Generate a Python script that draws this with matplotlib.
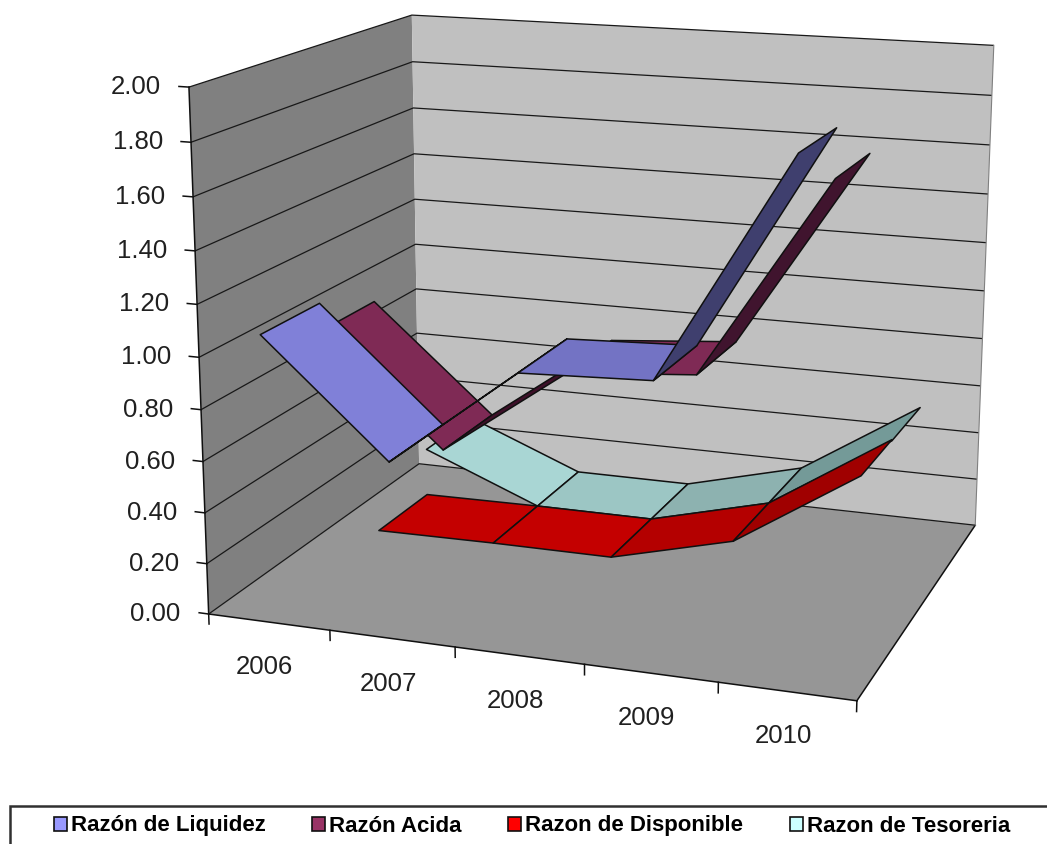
import matplotlib
matplotlib.use('Agg')
import matplotlib.pyplot as plt
from matplotlib.patches import Patch, Rectangle
from mpl_toolkits.mplot3d import proj3d
from mpl_toolkits.mplot3d.art3d import Poly3DCollection

years = ['2006', '2007', '2008', '2009', '2010']
series_names = ['Razón de Liquidez', 'Razón Acida', 'Razon de Disponible', 'Razon de Tesoreria']
liquidez = [1.11, 0.68, 1.06, 1.08, 1.91]
acida = [1.00, 0.58, 0.93, 0.97, 1.73]
disponible = [0.04, 0.045, 0.045, 0.17, 0.49]
tesoreria = [0.24, 0.045, 0.045, 0.17, 0.485]
z_ticks = [0.0, 0.2, 0.4, 0.6, 0.8, 1.0, 1.2, 1.4, 1.6, 1.8, 2.0]

# legend colours, then the shaded colour of each ribbon segment
legend_colors = ['#9999FF', '#993366', '#FF0000', '#CCFFFF']
liquidez_cols = ['#8080D8', '#20204A', '#7373C4', '#3F3F6E']
acida_cols = ['#7F2A55', '#3E1029', '#7F2A55', '#40142E']
disponible_cols = ['#C40000', '#C40000', '#B40000', '#A00000']
tesoreria_cols = ['#A9D6D4', '#9CC6C4', '#8DB2B0', '#749A98']

plt.rcParams['font.family'] = ['Liberation Sans', 'DejaVu Sans']
plt.rcParams['grid.color'] = '#181818'
plt.rcParams['grid.linewidth'] = 0.9

W, H = 1047, 844
fig = plt.figure(figsize=(W / 100, H / 100), dpi=100)

# camera was fitted to the corners of the box in the picture
side = 949.7
ax = fig.add_axes([123.6 / W, 33.9 / H, side / W, side / H], projection='3d', computed_zorder=False)
ax.patch.set_visible(False)
ax.set_xlim(0, 5, view_margin=0)
ax.set_ylim(0, 4, view_margin=0)
ax.set_zlim(0, 2, view_margin=0)
ax.view_init(elev=14.4487, azim=-70.7404, roll=-0.1515)
ax.set_proj_type('persp', focal_length=0.5176)
ax.set_box_aspect((1.2518, 0.9972, 1.0))

ax.set_xticks([])
ax.set_yticks([])
ax.set_zticks(z_ticks)
ax.set_zticklabels([])
ax.tick_params(axis='z', color='none')
ax.xaxis.set_pane_color('#808080')
ax.yaxis.set_pane_color('#C0C0C0')
ax.zaxis.set_pane_color('#969696')
for axis in (ax.xaxis, ax.yaxis, ax.zaxis):
    axis.pane.set_edgecolor('none')
    axis.line.set_color('none')

# box edges and tick marks
edge = dict(color='#101010', lw=1.1, zorder=1)
ax.plot([0, 5], [0, 0], [0, 0], **edge)
ax.plot([5, 5], [0, 4], [0, 0], **edge)
ax.plot([0, 0], [0, 0], [0, 2], **edge)
ax.plot([5, 5], [4, 4], [0, 2], color='#808080', lw=0.8, zorder=1)
for i in range(len(years) + 1):
    ax.plot([i, i], [0, 0], [0, -0.04], **edge)
for z in z_ticks:
    ax.plot([0, -0.08], [0, 0], [z, z], **edge)

# ribbons, back series first, left to right inside a series
all_series = [(tesoreria, tesoreria_cols, 3), (disponible, disponible_cols, 2),
              (acida, acida_cols, 1), (liquidez, liquidez_cols, 0)]
order = 2
for values, cols, depth in all_series:
    for i in range(len(values) - 1):
        quad = [(i + 0.5, depth, values[i]), (i + 1.5, depth, values[i + 1]),
                (i + 1.5, depth + 1, values[i + 1]), (i + 0.5, depth + 1, values[i])]
        poly = Poly3DCollection([quad], facecolors=cols[i], edgecolors='#101010', linewidths=1.1, zorder=order)
        ax.add_collection3d(poly, autolim=False)
        order += 1

# tick labels
M = ax.get_proj()
def label(text, x, y, z, dx, dy, ha):
    px, py, _ = proj3d.proj_transform(x, y, z, M)
    ax.annotate(text, (px, py), xytext=(dx, dy), textcoords='offset pixels', ha=ha, va='center',
                fontsize=18.5, color='#202020', annotation_clip=False)

for z in z_ticks:
    label('%.2f' % z, 0, 0, z, -28, 0, 'right')
for i, y in enumerate(years):
    label(y, i + 0.5, 0, 0, -4, -45, 'center')

# legend box runs off the bottom and right of the picture
fig.add_artist(Rectangle((10 / W, -0.05), 1.1, (H - 806) / H + 0.05, transform=fig.transFigure,
                         facecolor='white', edgecolor='#303030', lw=1.8))
handles = [Patch(facecolor=c, edgecolor='#101010', lw=1.2) for c in legend_colors]
fig.legend(handles, series_names, loc='center left', bbox_to_anchor=(54 / W, (H - 826) / H), ncols=4,
           frameon=False, borderpad=0, borderaxespad=0, handlelength=0.58, handleheight=0.58,
           handletextpad=0.18, columnspacing=2.1, prop={'weight': 'bold', 'size': 16})

fig.savefig('out.png', dpi=100)
